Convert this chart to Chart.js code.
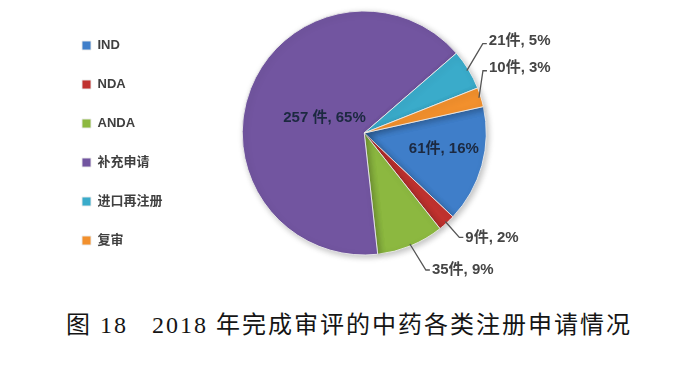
<!DOCTYPE html>
<html>
<head>
<meta charset="utf-8">
<script src="https://cdn.jsdelivr.net/npm/chart.js@4.4.0/dist/chart.umd.min.js"></script>
<style>
    html, body { margin: 0; padding: 0; background: #fff; }
    #wrap { position: relative; width: 700px; height: 290px; overflow: visible; }
    #pieChart { position: absolute; left: 0; top: -7px; }
    #caption {
        position: absolute; left: 66px; top: 313px;
        font-family: "Liberation Serif", "Noto Sans CJK SC", serif;
        font-size: 24px; line-height: 24px; letter-spacing: 2px;
        color: #151515; white-space: pre;
    }
</style>
</head>
<body>
<div id="wrap"><canvas id="pieChart" width="700" height="297"></canvas></div>
<div id="caption">图 18   2018 年完成审评的中药各类注册申请情况</div>
<script>
const categories = ['IND', 'NDA', 'ANDA', '补充申请', '进口再注册', '复审'];
const counts = [61, 9, 35, 257, 21, 10];
const percentLabels = ['16%', '2%', '9%', '65%', '5%', '3%'];
const countLabels = ['61件', '9件', '35件', '257 件', '21件', '10件'];

const sliceColors = ['#3f7ec9', '#c0322f', '#8cb840', '#7255a0', '#3aabca', '#f2902d'];

// where each label goes: inside at a fraction of the radius, or outside with a leader line
const labelStyle = [
    { inside: true, r: 0.66, dx: 2, dy: -6 },
    { inside: false, ex: 14, ey: 16, dir: 'down' },
    { inside: false, ex: 16, ey: 26, dir: 'down' },
    { inside: true, r: 0.35, dx: 0, dy: 0 },
    { inside: false, ex: 16, ey: -27, dir: 'up' },
    { inside: false, ex: 4, ey: -27, dir: 'up' },
];

const sliceLabels = {
    id: 'sliceLabels',
    afterDatasetsDraw(chart) {
        const ctx = chart.ctx;
        const meta = chart.getDatasetMeta(0);
        ctx.save();
        ctx.font = 'bold 15px "Liberation Sans", "Noto Sans CJK SC", sans-serif';
        meta.data.forEach((arc, i) => {
            const st = labelStyle[i];
            const p = arc.getProps(['x', 'y', 'startAngle', 'endAngle', 'outerRadius'], true);
            const mid = (p.startAngle + p.endAngle) / 2;
            const text = countLabels[i] + ', ' + percentLabels[i];
            if (st.inside) {
                ctx.fillStyle = '#1c2940';
                ctx.textAlign = 'center';
                ctx.textBaseline = 'middle';
                ctx.fillText(text, p.x + Math.cos(mid) * p.outerRadius * st.r + st.dx,
                    p.y + Math.sin(mid) * p.outerRadius * st.r + st.dy);
                return;
            }
            const sx = p.x + Math.cos(mid) * (p.outerRadius - 2);
            const sy = p.y + Math.sin(mid) * (p.outerRadius - 2);
            const ex = sx + st.ex, ey = sy + st.ey;
            ctx.strokeStyle = '#555';
            ctx.lineWidth = 1.3;
            ctx.beginPath();
            ctx.moveTo(sx, sy);
            ctx.lineTo(ex, ey);
            ctx.lineTo(ex + 4, ey);
            ctx.stroke();
            ctx.fillStyle = '#454545';
            ctx.textAlign = 'left';
            ctx.textBaseline = 'middle';
            ctx.fillText(text, ex + 6, st.dir === 'up' ? ey - 3 : ey);
        });
        ctx.restore();
    }
};

const pieShadow = {
    id: 'pieShadow',
    beforeDatasetsDraw(chart) {
        const ctx = chart.ctx;
        ctx.save();
        ctx.shadowColor = 'rgba(0,0,0,0.25)';
        ctx.shadowBlur = 6;
        ctx.shadowOffsetX = 2;
        ctx.shadowOffsetY = 2;
    },
    afterDatasetsDraw(chart) {
        chart.ctx.restore();
    }
};

new Chart(document.getElementById('pieChart'), {
    type: 'pie',
    data: {
        labels: categories,
        datasets: [{
            data: counts,
            backgroundColor: sliceColors,
            borderColor: 'rgba(235,235,235,0.9)',
            borderWidth: 1,
        }]
    },
    options: {
        responsive: false,
        animation: false,
        rotation: 77.5,
        radius: 122,
        layout: { padding: { left: 56, right: 144, top: 0, bottom: 17 } },
        plugins: {
            legend: {
                position: 'left',
                align: 'end',
                labels: {
                    boxWidth: 9,
                    boxHeight: 9,
                    padding: 26,
                    color: '#404040',
                    font: { family: '"Liberation Sans", "Noto Sans CJK SC", sans-serif', size: 13, weight: 'bold' },
                }
            },
            tooltip: { enabled: false },
        }
    },
    plugins: [pieShadow, sliceLabels]
});
</script>
</body>
</html>
